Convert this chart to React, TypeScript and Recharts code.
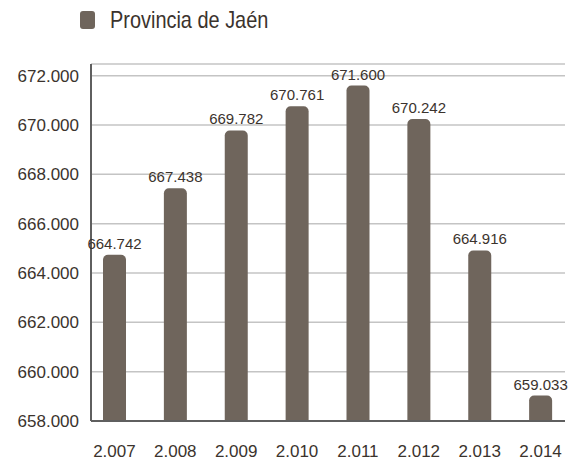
import { BarChart, Bar, XAxis, YAxis, CartesianGrid, LabelList } from "recharts";

const years = ["2.007", "2.008", "2.009", "2.010", "2.011", "2.012", "2.013", "2.014"];
const population = [664742, 667438, 669782, 670761, 671600, 670242, 664916, 659033];
const yTicks = [658000, 660000, 662000, 664000, 666000, 668000, 670000, 672000];
const seriesName = "Provincia de Jaén";

const BAR = "#6f655c";
const TEXT = "#3b332d";

const fmt = (v: number) => v.toLocaleString("de-DE");

const data = years.map((year, i) => ({ year, value: population[i] }));

// legend drawn by hand, the original uses a condensed face
function LegendBox() {
  return (
    <div style={{ position: "absolute", left: 80, top: 6, display: "flex", alignItems: "center", fontSize: 24, color: TEXT, whiteSpace: "nowrap" }}>
      <span style={{ width: 15, height: 18, borderRadius: 3, background: BAR, display: "inline-block", marginRight: 15 }} />
      <span style={{ display: "inline-block", transform: "scaleX(0.83)", transformOrigin: "left center" }}>{seriesName}</span>
    </div>
  );
}

export default function App() {
  return (
    <div style={{ position: "absolute", left: 0, top: 0, width: 569, height: 465, fontFamily: "'Liberation Sans', Arial, sans-serif" }}>
      <BarChart width={569} height={465} data={data} margin={{ top: 64, right: 4, left: 0, bottom: 0 }}>
        <CartesianGrid vertical={false} stroke="#c4c4c4" strokeWidth={1.5} />
        <XAxis
          dataKey="year"
          height={44}
          axisLine={{ stroke: "#5f5f5f", strokeWidth: 2 }}
          tickLine={false}
          tickMargin={18}
          padding={{ left: -7, right: -6 }}
          tick={{ fill: TEXT, fontSize: 17 }}
        />
        <YAxis
          width={91}
          domain={[658000, 672475]}
          ticks={yTicks}
          interval={0}
          tickFormatter={fmt}
          axisLine={{ stroke: "#5f5f5f", strokeWidth: 2 }}
          tickLine={false}
          tickMargin={6}
          tick={{ fill: TEXT, fontSize: 17 }}
        />
        <Bar dataKey="value" fill={BAR} barSize={23} radius={[5, 5, 0, 0]} isAnimationActive={false}>
          <LabelList dataKey="value" position="top" offset={6} formatter={(v: number) => fmt(v)} fill={TEXT} fontSize={15} />
        </Bar>
      </BarChart>
      <LegendBox />
    </div>
  );
}
